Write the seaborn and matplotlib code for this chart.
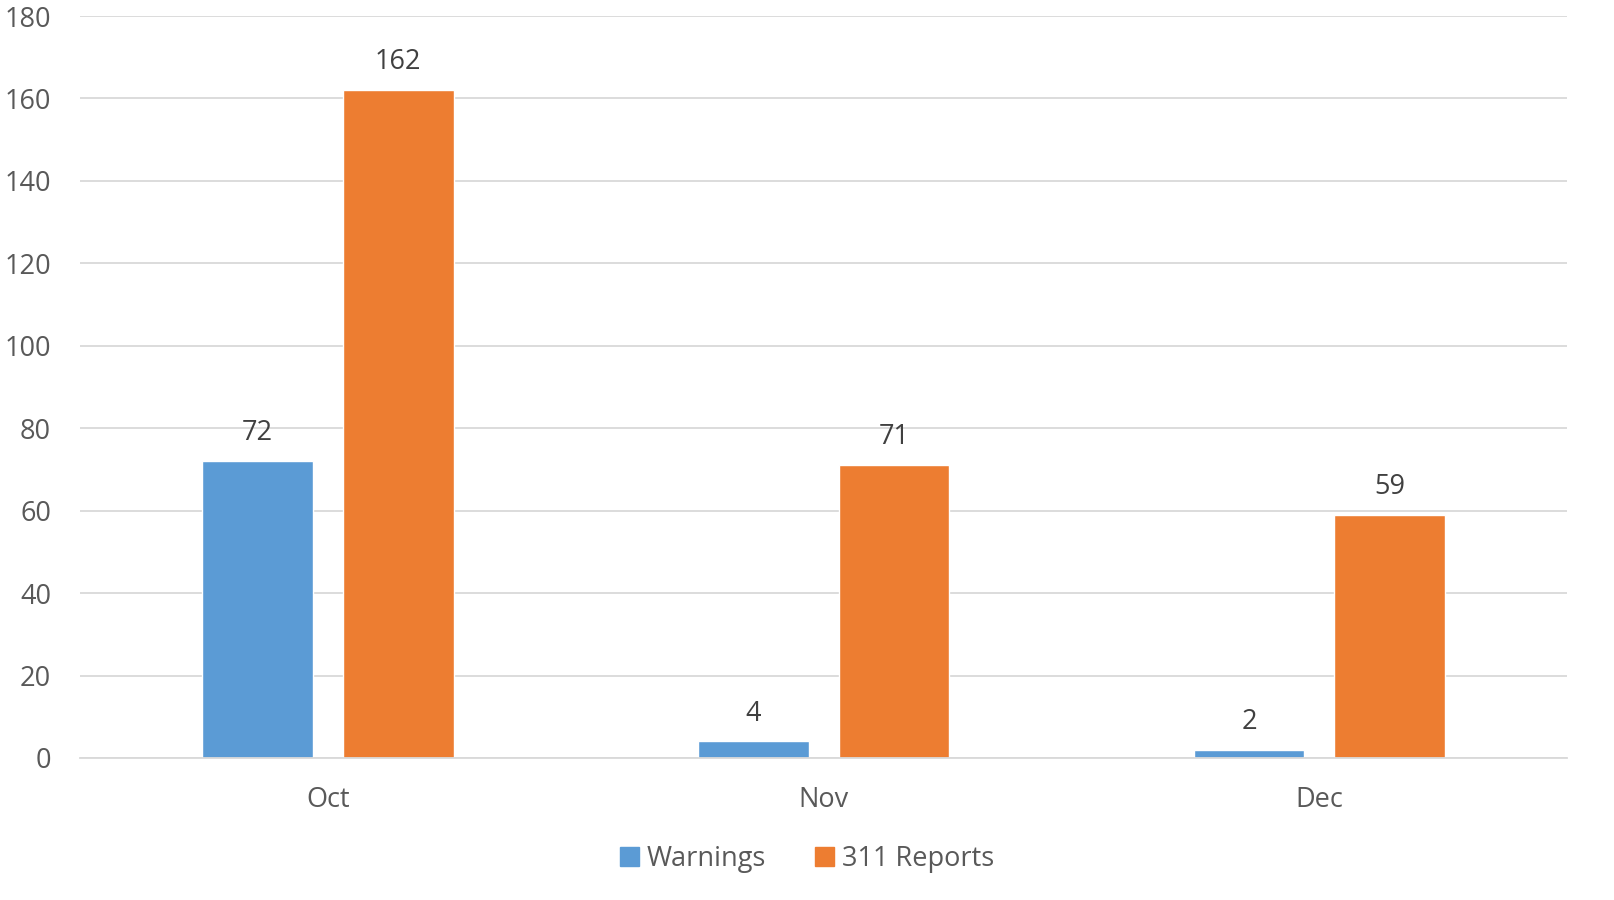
import pandas as pd
import matplotlib.pyplot as plt
import seaborn as sns

# Data
months = ['Oct', 'Nov', 'Dec']
warnings = [72, 4, 2]
reports_311 = [162, 71, 59]
series_names = ['Warnings', '311 Reports']

df = pd.DataFrame({
    'Month': months * 2,
    'Series': [series_names[0]] * 3 + [series_names[1]] * 3,
    'Count': warnings + reports_311,
})

sns.set_style('white')
plt.rcParams['font.family'] = ['Open Sans', 'DejaVu Sans']

fig = plt.figure(figsize=(16.14, 9), dpi=100)
ax = fig.add_axes([0.0496, 0.1578, 0.9214, 0.8244])

palette = {'Warnings': '#5B9BD5', '311 Reports': '#ED7D31'}
sns.barplot(data=df, x='Month', y='Count', hue='Series', palette=palette,
            width=0.568, gap=0.213, saturation=1, ax=ax, legend=False)

ax.set_ylim(0, 180)
ax.set_xlim(-0.5, 2.5)
ax.set_yticks(range(0, 181, 20))
ax.yaxis.grid(True, color='#D9D9D9', linewidth=1.3)
ax.set_axisbelow(True)
for s in ['top', 'right', 'left']:
    ax.spines[s].set_visible(False)
ax.spines['bottom'].set_color('#D9D9D9')
ax.spines['bottom'].set_linewidth(1.3)
ax.tick_params(axis='both', length=0, labelsize=19.5, labelcolor='#595959')
ax.tick_params(axis='x', pad=20)
ax.tick_params(axis='y', pad=21)
ax.set_xlabel('')
ax.set_ylabel('')

for cont in ax.containers:
    ax.bar_label(cont, padding=10, fontsize=19.5, color='#404040')

handles = [plt.Rectangle((0, 0), 1, 1, color=palette[n]) for n in series_names]
fig.legend(handles, series_names, loc='center', bbox_to_anchor=(0.5, 0.046),
           ncol=2, frameon=False, fontsize=19.5, labelcolor='#595959',
           handlelength=0.7, handleheight=0.7, handletextpad=0.3, columnspacing=1.8)

fig.savefig('out.png', dpi=100)
